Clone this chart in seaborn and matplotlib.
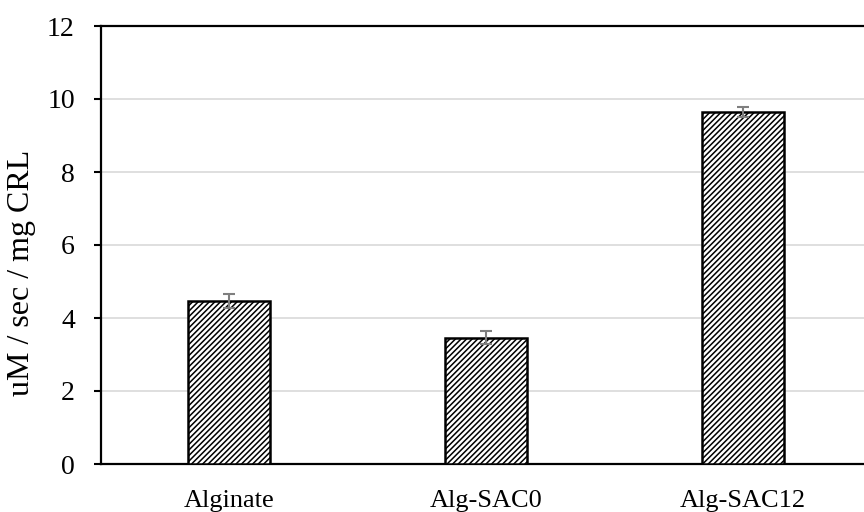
import matplotlib
matplotlib.use("Agg")
import matplotlib.pyplot as plt
import seaborn as sns
import pandas as pd

categories = ["Alginate", "Alg-SAC0", "Alg-SAC12"]
values = [4.47, 3.46, 9.64]
errors = [0.20, 0.18, 0.13]
y_ticks = [0, 2, 4, 6, 8, 10, 12]
y_label = "uM / sec / mg CRL"

sns.set_theme(style="white")
plt.rcParams["font.family"] = ["Liberation Serif", "DejaVu Serif"]
plt.rcParams["hatch.linewidth"] = 1.1
plt.rcParams["hatch.color"] = "black"
plt.rcParams["text.color"] = "black"
plt.rcParams["axes.labelcolor"] = "black"
plt.rcParams["xtick.color"] = "black"
plt.rcParams["ytick.color"] = "black"

df = pd.DataFrame({"cat": categories, "val": values})

fig = plt.figure(figsize=(8.64, 5.12), dpi=100)
ax = fig.add_axes([100.5 / 864, 48 / 512, 771 / 864, 438 / 512])

sns.barplot(data=df, x="cat", y="val", ax=ax, color="white", width=0.32,
            errorbar=None, edgecolor="black", linewidth=1.8,
            zorder=3)
for p in ax.patches:
    p.set_hatch("//////")
    p.set_edgecolor("black")

ax.errorbar(range(len(categories)), values, yerr=errors, fmt="none",
            ecolor="#7f7f7f", elinewidth=1.5, capsize=4.3, capthick=1.5, zorder=4)

ax.set_xlim(-0.5, 2.5)
ax.set_ylim(0, 12)
ax.set_yticks(y_ticks)
ax.set_yticklabels([str(t) for t in y_ticks])
ax.yaxis.grid(True, color="#d9d9d9", linewidth=1.2, zorder=0)
ax.set_axisbelow(True)

for s in ["left", "top", "bottom"]:
    ax.spines[s].set_visible(True)
    ax.spines[s].set_color("black")
    ax.spines[s].set_linewidth(1.6)
ax.spines["right"].set_visible(False)

ax.tick_params(axis="y", direction="out", length=5, width=1.5, colors="black",
               labelsize=20, pad=13.5, left=True)
ax.tick_params(axis="x", length=0, labelsize=19, pad=19, colors="black")
ax.set_xlabel("")
ax.set_ylabel(y_label, fontsize=23, color="black")
ax.yaxis.set_label_coords(-0.084, 0.436)

fig.savefig("out.png", dpi=100)
